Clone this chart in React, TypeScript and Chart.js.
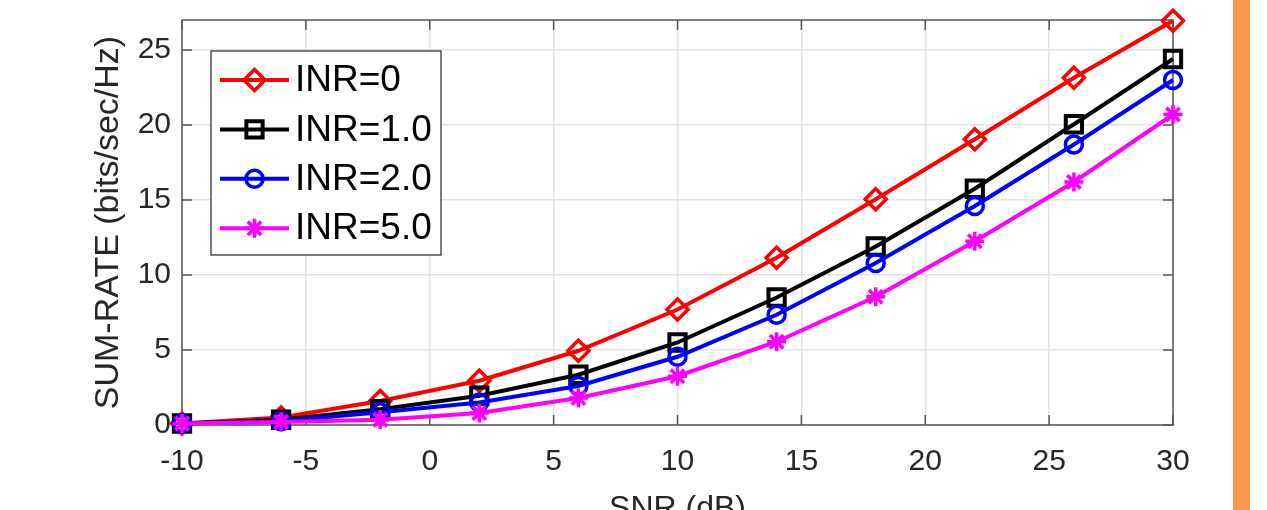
import React, { useEffect, useRef } from 'react';
import { Chart, registerables } from 'chart.js';
import { drawPoint } from 'chart.js/helpers';

Chart.register(...registerables);

// ---- data ----
const snrDb = [-10, -6, -2, 2, 6, 10, 14, 18, 22, 26, 30];
const inr0 = [0.1, 0.5, 1.6, 2.95, 4.95, 7.7, 11.15, 15.05, 19.05, 23.15, 26.95];
const inr1 = [0.1, 0.35, 1.05, 1.95, 3.35, 5.5, 8.5, 11.9, 15.75, 20.05, 24.4];
const inr2 = [0.1, 0.25, 0.85, 1.5, 2.6, 4.55, 7.35, 10.8, 14.6, 18.7, 23.0];
const inr5 = [0.1, 0.2, 0.35, 0.8, 1.8, 3.25, 5.55, 8.55, 12.25, 16.2, 20.7];
const seriesLabels = ['INR=0', 'INR=1.0', 'INR=2.0', 'INR=5.0'];
const xTitle = 'SNR (dB)';
const yTitle = 'SUM-RATE (bits/sec/Hz)';

const FONT = "'Liberation Sans', Arial, Helvetica, sans-serif";
const TEXT = '#262626';

const framePlugin = {
  id: 'matlabFrame',
  beforeDatasetsDraw(chart: any) {
    const { ctx, chartArea: a, scales } = chart;
    ctx.save();
    ctx.strokeStyle = '#555555';
    ctx.lineWidth = 1.5;
    ctx.strokeRect(a.left, a.top, a.right - a.left, a.bottom - a.top);
    const L = 10;
    ctx.beginPath();
    scales.x.ticks.forEach((t: any) => {
      const px = scales.x.getPixelForValue(t.value);
      ctx.moveTo(px, a.bottom);
      ctx.lineTo(px, a.bottom - L);
      ctx.moveTo(px, a.top);
      ctx.lineTo(px, a.top + L);
    });
    scales.y.ticks.forEach((t: any) => {
      const py = scales.y.getPixelForValue(t.value);
      ctx.moveTo(a.left, py);
      ctx.lineTo(a.left + L, py);
      ctx.moveTo(a.right, py);
      ctx.lineTo(a.right - L, py);
    });
    ctx.stroke();
    ctx.restore();
  },
};

const legendPlugin = {
  id: 'insideLegend',
  afterDatasetsDraw(chart: any) {
    const { ctx, chartArea: a } = chart;
    const bx = a.left + 29;
    const by = a.top + 31;
    const bw = 230;
    const bh = 204;
    ctx.save();
    ctx.fillStyle = '#ffffff';
    ctx.fillRect(bx, by, bw, bh);
    ctx.strokeStyle = TEXT;
    ctx.lineWidth = 1.2;
    ctx.strokeRect(bx, by, bw, bh);
    const dsets = chart.data.datasets;
    dsets.forEach((ds: any, i: number) => {
      const cy = by + 29 + i * 49.4;
      const x0 = bx + 9;
      const x1 = bx + 78;
      ctx.strokeStyle = ds.borderColor;
      ctx.lineWidth = ds.borderWidth;
      ctx.beginPath();
      ctx.moveTo(x0, cy);
      ctx.lineTo(x1, cy);
      ctx.stroke();
      ctx.fillStyle = 'rgba(0,0,0,0)';
      ctx.strokeStyle = ds.borderColor;
      ctx.lineWidth = ds.pointBorderWidth;
      drawPoint(ctx, { pointStyle: ds.pointStyle, radius: ds.pointRadius, rotation: 0, borderWidth: ds.pointBorderWidth }, (x0 + x1) / 2, cy);
      ctx.fillStyle = '#000000';
      ctx.font = `37px ${FONT}`;
      ctx.textBaseline = 'middle';
      ctx.textAlign = 'left';
      ctx.fillText(ds.label, bx + 84, cy + 1);
    });
    ctx.restore();
  },
};

function mk(label: string, ys: number[], color: string, style: string, r: number, bw: number, order: number) {
  return {
    label,
    data: snrDb.map((x, i) => ({ x, y: ys[i] })),
    borderColor: color,
    backgroundColor: color,
    borderWidth: 4,
    pointStyle: style,
    pointRadius: r,
    pointBorderWidth: bw,
    pointBorderColor: color,
    pointBackgroundColor: 'rgba(0,0,0,0)',
    clip: false,
    order,
    tension: 0,
  };
}

export default function App() {
  const ref = useRef<HTMLCanvasElement | null>(null);
  useEffect(() => {
    if (!ref.current) return;
    const chart = new Chart(ref.current, {
      type: 'line',
      data: {
        datasets: [
          mk(seriesLabels[0], inr0, '#ff0000', 'rectRot', 10.5, 3.5, 4),
          mk(seriesLabels[1], inr1, '#000000', 'rect', 11.5, 4, 3),
          mk(seriesLabels[2], inr2, '#0000ff', 'circle', 8.5, 3.5, 2),
          mk(seriesLabels[3], inr5, '#ff00ff', 'star', 9.5, 3.5, 1),
        ] as any,
      },
      options: {
        animation: false,
        responsive: true,
        maintainAspectRatio: false,
        layout: { padding: { left: 0, right: 94, top: 20, bottom: 0 } },
        plugins: { legend: { display: false }, tooltip: { enabled: false } },
        scales: {
          x: {
            type: 'linear',
            min: -10,
            max: 30,
            ticks: { stepSize: 5, color: TEXT, font: { size: 30, family: FONT }, padding: 19, maxRotation: 0, autoSkip: false, includeBounds: false },
            grid: { color: '#e3e3e3', lineWidth: 1.5, drawTicks: false },
            border: { display: false },
            title: { display: true, text: xTitle, color: TEXT, font: { size: 32, family: FONT }, padding: { top: 0, bottom: 12 } },
            afterFit: (s: any) => { s.height = 115; s.paddingLeft = 0; s.paddingRight = 0; },
          },
          y: {
            type: 'linear',
            min: 0,
            max: 27,
            ticks: { stepSize: 5, color: TEXT, font: { size: 30, family: FONT }, padding: 11, includeBounds: false },
            grid: { color: '#e3e3e3', lineWidth: 1.5, drawTicks: false },
            border: { display: false },
            title: { display: true, text: yTitle, color: TEXT, font: { size: 34, family: FONT }, padding: { top: 88, bottom: 0 } },
            afterFit: (s: any) => { s.width = 182; s.paddingTop = 0; s.paddingBottom = 0; },
          },
        },
      } as any,
      plugins: [framePlugin, legendPlugin],
    });
    return () => chart.destroy();
  }, []);

  return (
    <div style={{ position: 'fixed', left: 0, top: 0, width: 1267, height: 510, overflow: 'hidden', background: '#ffffff' }}>
      <div style={{ position: 'absolute', left: 0, top: 0, width: 1267, height: 540 }}>
        <canvas ref={ref} />
      </div>
      <div style={{ position: 'absolute', left: 1233, top: 0, width: 17, height: 510, background: '#F79646' }} />
    </div>
  );
}
